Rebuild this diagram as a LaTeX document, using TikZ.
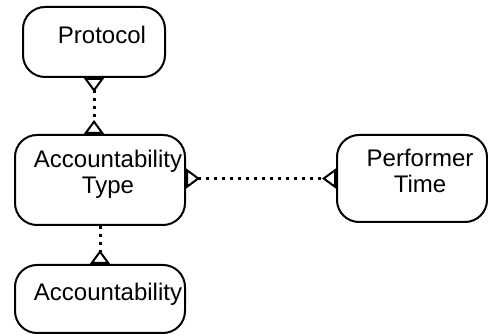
\documentclass[tikz,border=0pt]{standalone}
\usepackage{fontspec}
\setmainfont{Liberation Sans}
\usetikzlibrary{arrows.meta}
\newcommand\tpad{\hspace*{8pt}}
\tikzset{
	entity/.style={draw, line width=1pt, rounded corners=11pt, align=center, inner sep=0pt, font=\fontsize{12}{13}\selectfont},
	link/.style={line width=1.5pt, dash pattern=on 1.5pt off 2.5pt},
	crow/.tip={Triangle[open, reversed, length=7pt, width=10pt, line width=1pt]},
}

\begin{document}
\begin{tikzpicture}[x=0.5pt, y=-0.5pt]
			%%%%% START %%%%%
			\useasboundingbox (0, 0) rectangle (488, 336);
			
			\node[entity, minimum width=71pt, minimum height=35pt, text depth=7pt] (proto) at (94, 42) {\tpad Protocol};
			\node[entity, minimum width=85pt, minimum height=45pt, text depth=8pt] (accty) at (100, 180) {\tpad Accountability\\\tpad Type};
			\node[entity, minimum width=85pt, minimum height=34pt, text depth=7pt] (acct) at (100, 299) {\tpad Accountability};
			\node[entity, minimum width=75pt, minimum height=43.5pt, text depth=8pt] (perf) at (412, 178.5) {\tpad Performer\\\tpad Time};
			
			\draw[link, crow-crow] (proto.south) -- (proto.south |- accty.north);
			\draw[link, crow-crow] (perf.west -| accty.east) -- (perf.west);
			\draw[link, -crow] (accty.south) -- (acct.north);
			
			%%%%% END %%%%%
\end{tikzpicture}
\end{document}
